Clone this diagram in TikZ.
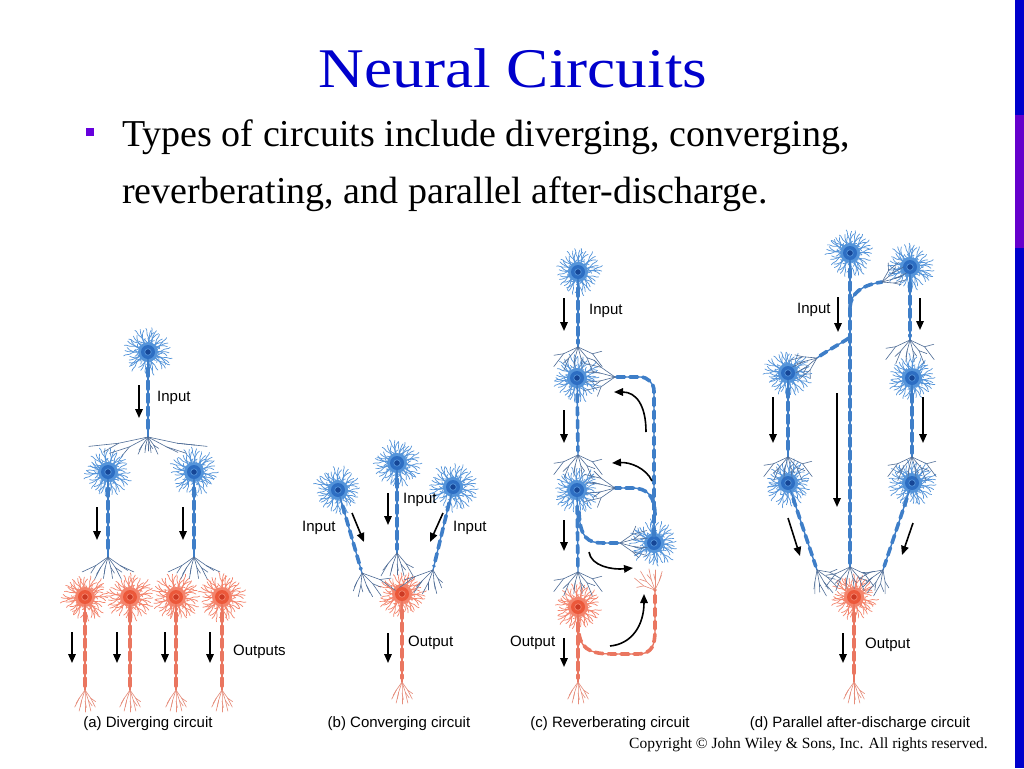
\documentclass[tikz,border=0pt]{standalone}
\usepackage{fontspec}
\usepackage{graphicx}
\setmainfont{Liberation Serif}
\newfontfamily\labfont{Liberation Sans}
\usetikzlibrary{arrows.meta}
\definecolor{ttl}{RGB}{0,0,204}
\definecolor{bul}{RGB}{102,0,221}
\definecolor{barb}{RGB}{0,0,204}
\definecolor{barp}{RGB}{102,0,204}
\definecolor{bD}{RGB}{84,148,218}
\definecolor{bS}{RGB}{45,110,195}
\definecolor{bN}{RGB}{22,70,150}
\definecolor{bA}{RGB}{62,126,200}
\definecolor{bT}{RGB}{78,108,150}
\definecolor{rD}{RGB}{244,132,108}
\definecolor{rS}{RGB}{236,88,58}
\definecolor{rN}{RGB}{205,58,36}
\definecolor{rA}{RGB}{234,118,96}
\definecolor{rT}{RGB}{230,140,122}
\tikzset{
  dendB/.style={draw=bD, line width=0.7pt, line cap=round, line join=round},
  dendR/.style={draw=rD, line width=0.7pt, line cap=round, line join=round},
  haloB/.style={circle, fill=bD, minimum size=20pt, inner sep=0pt},
  haloR/.style={circle, fill=rD, minimum size=20pt, inner sep=0pt},
  somaB/.style={circle, fill=bS, minimum size=14pt, inner sep=0pt},
  somaR/.style={circle, fill=rS, minimum size=14pt, inner sep=0pt},
  nucB/.style={circle, fill=bN, draw=bD, line width=0.7pt, minimum size=6.5pt, inner sep=0pt},
  nucR/.style={circle, fill=rN, draw=rD, line width=0.7pt, minimum size=6.5pt, inner sep=0pt},
  axB/.style={draw=bA, line width=1.3pt},
  axR/.style={draw=rA, line width=1.3pt},
  myB/.style={draw=bA, line width=3.6pt, line cap=round, dash pattern=on 8pt off 5pt},
  myR/.style={draw=rA, line width=3.6pt, line cap=round, dash pattern=on 8pt off 5pt},
  termB/.style={draw=bT, line width=0.6pt, line cap=round, line join=round},
  termR/.style={draw=rT, line width=0.6pt, line cap=round, line join=round},
  flow/.style={draw=black, line width=1.6pt, -{Triangle[length=9pt,width=7.5pt]}},
  lbl/.style={font=\labfont\fontsize{15}{18}\selectfont, inner sep=0pt, text=black, anchor=west},
  sub/.style={font=\labfont\fontsize{15}{18}\selectfont, inner sep=0pt, text=black, anchor=base},
  body/.style={anchor=base west, inner sep=0pt, font=\fontsize{38}{44}\selectfont},
}
\newcommand\dendr[4]{%
 \begin{scope}[shift={(#1,#2)}]
 \foreach \da in {0,22.5,...,340}{%
   \pgfmathsetmacro\dd{\da+#4+12*rnd-6}%
   \pgfmathsetmacro\dl{10+5*rnd}%
   \draw[#3, line width=1.3pt] (\dd:6) -- (\dd:\dl) coordinate (dq);
   \draw[#3] (dq) -- ++(\dd-28:5) -- ++(\dd-8:4) -- ++(\dd-30:2);
   \draw[#3] (dq) -- ++(\dd+26:5) -- ++(\dd+46:3);
   \draw[#3] (dq) -- ++(\dd+4:6) -- ++(\dd+20:3);
   \draw[#3] (\dd:{0.65*\dl}) -- ++(\dd-55:4) -- ++(\dd-35:2);
   \draw[#3] (\dd:{0.8*\dl}) -- ++(\dd+60:3);
 }
 \end{scope}}
\newcommand\nrn[5]{%
 \dendr{#2}{#3}{dend#4}{#5}
 \node[halo#4] (#1h) at (#2,#3) {};
 \node[soma#4] (#1) at (#2,#3) {};
 \node[nuc#4] (#1n) at (#2,#3) {};}
\newcommand\tl[5]{%
 \draw[#5] (#1) -- ++(#2:{0.5*#3}) coordinate (fq) -- ++({#2+(#4)}:{0.5*#3});
 \draw[#5] (fq) -- ++({#2-(#4)-12}:{0.3*#3});}
\newcommand\fan[3]{\foreach \fa/\fl/\fb in {#3}{\tl{#1}{\fa}{\fl}{\fb}{#2}}}
\newcommand\outfan[1]{\fan{#1}{termR}{55/20/8, 72/22/5, 90/22/0, 108/22/-5, 125/20/-8}}
\newcommand\envfan[2]{\fan{#1}{#2}{155/32/-28, 130/28/-18, 105/22/-8, 75/22/8, 50/28/18, 25/32/28}}
\newcommand\axon[3]{\draw[ax#3] (#1) -- (#2); \draw[my#3, shorten <=9pt, shorten >=4pt] (#1) -- (#2);}
\newcommand\axp[2]{\draw[ax#1] #2; \draw[my#1] #2;}
\newcommand\arr[5]{\coordinate (#1s) at (#2,#3); \coordinate (#1e) at (#4,#5); \draw[flow] (#1s) -- (#1e);}
\begin{document}
\begin{tikzpicture}[x=1pt,y=-1pt]
\pgfmathsetseed{12}
\useasboundingbox (0,0) rectangle (1024,768);
\fill[white] (0,0) rectangle (1024,768);
\fill[barb] (1015,0) rectangle (1024,768);
\fill[barp] (1015,115) rectangle (1024,248);
\node[anchor=base, text=ttl, font=\fontsize{56}{60}\selectfont, inner sep=0pt] (title) at (513,87) {\scalebox{1.13}[1]{Neural Circuits}};
\node[fill=bul, minimum size=8pt, inner sep=0pt] (bullet) at (90,132) {};
\node[body] (line1) at (122,146) {Types of circuits include diverging, converging,};
\node[body] (line2) at (122,203) {reverberating, and parallel after-discharge.};

%% ---------- (a) diverging
\nrn{a0}{148}{352}{B}{0}
\nrn{a1}{108}{472}{B}{10}
\nrn{a2}{194}{472}{B}{5}
\nrn{ra1}{85}{597}{R}{0}
\nrn{ra2}{130}{597}{R}{12}
\nrn{ra3}{176}{597}{R}{6}
\nrn{ra4}{222}{597}{R}{18}
\coordinate (a0t) at (148,437);
\coordinate (a1t) at (108,557);
\coordinate (a2t) at (194,557);
\coordinate (ra1t) at (85,690);
\coordinate (ra2t) at (130,690);
\coordinate (ra3t) at (176,690);
\coordinate (ra4t) at (222,690);
\axon{a0}{a0t}{B}
\axon{a1}{a1t}{B}
\axon{a2}{a2t}{B}
\axon{ra1}{ra1t}{R}
\axon{ra2}{ra2t}{R}
\axon{ra3}{ra3t}{R}
\axon{ra4}{ra4t}{R}
\fan{a0t}{termB}{168/60/6, 152/42/10, 125/20/-10, 105/16/-8, 90/14/0, 75/16/8, 55/20/10, 28/42/-10, 12/60/-6}
\fan{a1t}{termB}{145/30/10, 125/26/-8, 105/22/-6, 75/22/6, 55/26/8, 35/30/-10}
\fan{a2t}{termB}{145/30/10, 125/26/-8, 105/22/-6, 75/22/6, 55/26/8, 35/30/-10}
\outfan{ra1t}\outfan{ra2t}\outfan{ra3t}\outfan{ra4t}
\arr{fa0}{139}{385}{139}{418}
\arr{fa1}{97}{507}{97}{540}
\arr{fa2}{183}{507}{183}{540}
\arr{fa3}{72}{632}{72}{663}
\arr{fa4}{117}{632}{117}{663}
\arr{fa5}{165}{632}{165}{663}
\arr{fa6}{210}{632}{210}{663}
\node[lbl] (ainput) at (157,398) {Input};
\node[lbl] (aout) at (233,652) {Outputs};
\node[sub] (acap) at (148,727) {(a) Diverging circuit};

%% ---------- (b) converging
\nrn{b1}{338}{490}{B}{3}
\nrn{b2}{397}{463}{B}{8}
\nrn{b3}{453}{487}{B}{14}
\nrn{b4}{402}{594}{R}{4}
\coordinate (b1t) at (362,573);
\coordinate (b2t) at (397,553);
\coordinate (b3t) at (433,570);
\coordinate (b4t) at (402,682);
\axon{b1}{b1t}{B}
\axon{b2}{b2t}{B}
\axon{b3}{b3t}{B}
\axon{b4}{b4t}{R}
\fan{b1t}{termB}{20/38/15, 45/30/10, 70/26/-8, 95/24/8, 120/20/-8}
\fan{b3t}{termB}{160/38/-15, 135/30/-10, 110/26/8, 85/24/-8, 60/20/8}
\fan{b2t}{termB}{130/28/-10, 110/24/-6, 90/22/0, 70/24/6, 50/28/10}
\outfan{b4t}
\arr{fb1}{352}{513}{364}{542}
\arr{fb2}{388}{493}{388}{525}
\arr{fb3}{443}{513}{430}{542}
\arr{fb4}{388}{633}{388}{663}
\node[lbl] (binl) at (302,528) {Input};
\node[lbl] (binm) at (403,500) {Input};
\node[lbl] (binr) at (453,528) {Input};
\node[lbl] (bout) at (408,643) {Output};
\node[sub] (bcap) at (399,727) {(b) Converging circuit};

%% ---------- (c) reverberating
\nrn{c1}{578}{272}{B}{0}
\nrn{c2}{577}{378}{B}{9}
\nrn{c3}{577}{490}{B}{15}
\nrn{c4}{654}{543}{B}{4}
\nrn{c5}{578}{607}{R}{11}
\coordinate (c1t) at (578,347);
\coordinate (c2t) at (578,455);
\coordinate (c3t) at (578,572);
\coordinate (c5t) at (578,682);
\coordinate (c2in) at (615,377);
\coordinate (c3in) at (615,488);
\coordinate (c4in) at (620,543);
\coordinate (c5in) at (655,590);
\coordinate (cj) at (655,515);
\coordinate (cb) at (579,512);
\coordinate (cr) at (579,634);
\axon{c1}{c1t}{B}
\axon{c2}{c2t}{B}
\axon{c3}{c3t}{B}
\axon{c5}{c5t}{R}
\axp{B}{[rounded corners=14pt] (c4) |- (c2in)}
\axp{B}{(cj) .. controls (655,497) and (648,488) .. (632,488) -- (c3in)}
\axp{B}{(cb) .. controls (580,538) and (588,543) .. (603,543) -- (c4in)}
\axp{R}{(cr) .. controls (582,652) and (595,654) .. (615,654) -- (638,654) .. controls (652,654) and (655,645) .. (655,630) -- (c5in)}
\envfan{c1t}{termB}
\envfan{c2t}{termB}
\envfan{c3t}{termB}
\fan{c2in}{termB}{215/34/-22, 195/30/-10, 165/30/10, 145/34/22}
\fan{c3in}{termB}{215/34/-22, 195/30/-10, 165/30/10, 145/34/22}
\fan{c4in}{termB}{325/30/20, 345/28/10, 15/28/-10, 35/30/-20}
\fan{c5in}{termR}{200/24/20, 225/24/15, 250/22/8, 270/20/0, 295/20/-8}
\outfan{c5t}
\arr{fc1}{564}{298}{564}{331}
\arr{fc2}{564}{410}{564}{443}
\arr{fc3}{564}{520}{564}{551}
\arr{fc4}{564}{638}{564}{667}
\coordinate (k1s) at (646,432); \coordinate (k1e) at (614,392);
\draw[flow] (k1s) .. controls (646,405) and (636,392) .. (k1e);
\coordinate (k2s) at (652,481); \coordinate (k2e) at (612,463);
\draw[flow] (k2s) .. controls (646,468) and (630,462) .. (k2e);
\coordinate (k3s) at (589,552); \coordinate (k3e) at (633,568);
\draw[flow] (k3s) .. controls (591,566) and (612,570) .. (k3e);
\coordinate (k4s) at (610,646); \coordinate (k4e) at (644,594);
\draw[flow] (k4s) .. controls (632,644) and (644,625) .. (k4e);
\node[lbl] (cin) at (589,311) {Input};
\node[lbl] (cout) at (510,643) {Output};
\node[sub] (ccap) at (610,727) {(c) Reverberating circuit};

%% ---------- (d) parallel after-discharge
\nrn{d0}{850}{253}{B}{2}
\nrn{d1}{910}{267}{B}{13}
\nrn{d2}{912}{378}{B}{7}
\nrn{d3}{912}{483}{B}{17}
\nrn{d4}{788}{373}{B}{11}
\nrn{d5}{788}{483}{B}{4}
\nrn{d6}{854}{597}{R}{9}
\coordinate (d0t) at (850,567);
\coordinate (d1t) at (910,340);
\coordinate (d2t) at (912,457);
\coordinate (d3t) at (883,570);
\coordinate (d4t) at (788,457);
\coordinate (d5t) at (817,570);
\coordinate (d6t) at (854,682);
\coordinate (dj1) at (850,307);
\coordinate (dj2) at (849,338);
\coordinate (d1in) at (882,282);
\coordinate (d4in) at (817,358);
\axon{d0}{d0t}{B}
\axon{d1}{d1t}{B}
\axon{d2}{d2t}{B}
\axon{d3}{d3t}{B}
\axon{d4}{d4t}{B}
\axon{d5}{d5t}{B}
\axon{d6}{d6t}{R}
\axp{B}{(dj1) .. controls (851,293) and (862,285) .. (d1in)}
\axp{B}{(dj2) .. controls (840,344) and (828,350) .. (d4in)}
\fan{d1in}{termB}{300/26/20, 320/26/10, 345/26/-10, 5/24/-20}
\fan{d4in}{termB}{120/28/20, 140/26/10, 165/26/-10, 185/28/-20}
\envfan{d1t}{termB}
\envfan{d2t}{termB}
\envfan{d4t}{termB}
\envfan{d0t}{termB}
\fan{d3t}{termB}{80/24/10, 100/28/20, 120/28/10, 145/26/-10, 170/26/-20}
\fan{d5t}{termB}{100/24/-10, 80/28/-20, 60/28/-10, 35/26/10, 10/26/20}
\outfan{d6t}
\arr{fd1}{838}{297}{838}{332}
\arr{fd2}{920}{298}{920}{330}
\arr{fd3}{923}{397}{923}{443}
\arr{fd4}{773}{397}{773}{443}
\arr{fd5}{837}{393}{837}{507}
\arr{fd6}{788}{518}{800}{556}
\arr{fd7}{913}{523}{902}{555}
\arr{fd8}{843}{633}{843}{663}
\node[lbl] (din) at (797,310) {Input};
\node[lbl] (dout) at (865,645) {Output};
\node[sub] (dcap) at (860,727) {(d) Parallel after-discharge circuit};

\node[anchor=base east, inner sep=0pt, font=\fontsize{15.5}{18}\selectfont] (copy) at (988,748) {Copyright \textcopyright{} John Wiley \& Sons, Inc. All rights reserved.};
\end{tikzpicture}
\end{document}
